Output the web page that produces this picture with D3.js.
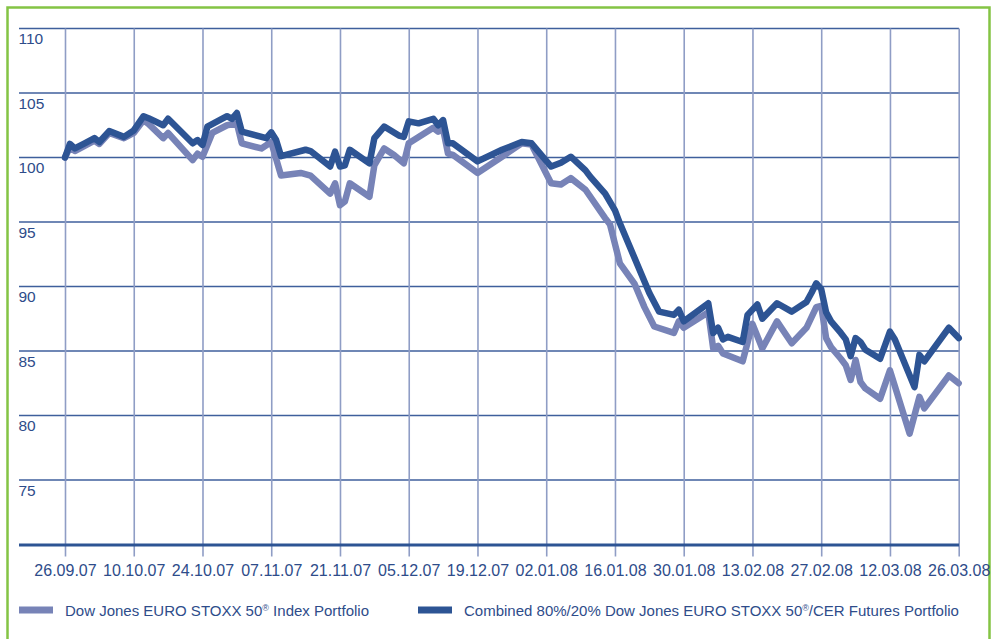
<!DOCTYPE html>
<html>
<head>
<meta charset="utf-8">
<script src="https://cdn.jsdelivr.net/npm/d3@7/dist/d3.min.js"></script>
<style>
  html, body { margin: 0; padding: 0; background: #ffffff; }
  svg { display: block; }
  text { font-family: "Liberation Sans", Arial, Helvetica, sans-serif; fill: #2e4c8a; }
</style>
</head>
<body>
<svg id="chart" width="991" height="639"></svg>
<script>
// Tick labels along the date axis (every two weeks)
const dateTicks = ["26.09.07", "10.10.07", "24.10.07", "07.11.07", "21.11.07", "05.12.07", "19.12.07",
                   "02.01.08", "16.01.08", "30.01.08", "13.02.08", "27.02.08", "12.03.08", "26.03.08"];
// Value axis labels
const valueTicks = [110, 105, 100, 95, 90, 85, 80, 75];

// Dow Jones EURO STOXX 50 Index Portfolio
const indexDates = ["26.09.07","27.09.07","28.09.07","30.09.07","02.10.07","03.10.07","05.10.07","08.10.07",
  "10.10.07","12.10.07","13.10.07","16.10.07","17.10.07","22.10.07","23.10.07","24.10.07","26.10.07",
  "29.10.07","31.10.07","01.11.07","05.11.07","07.11.07","09.11.07","13.11.07","15.11.07","19.11.07",
  "20.11.07","21.11.07","22.11.07","23.11.07","27.11.07","28.11.07","30.11.07","02.12.07","04.12.07",
  "05.12.07","10.12.07","11.12.07","12.12.07","13.12.07","14.12.07","19.12.07","24.12.07","28.12.07",
  "30.12.07","03.01.08","05.01.08","07.01.08","10.01.08","14.01.08","15.01.08","16.01.08","17.01.08",
  "20.01.08","22.01.08","24.01.08","28.01.08","29.01.08","30.01.08","04.02.08","05.02.08","06.02.08",
  "07.02.08","11.02.08","13.02.08","15.02.08","18.02.08","21.02.08","24.02.08","26.02.08","27.02.08",
  "28.02.08","29.02.08","02.03.08","03.03.08","04.03.08","05.03.08","06.03.08","07.03.08","10.03.08",
  "12.03.08","16.03.08","18.03.08","19.03.08","24.03.08","26.03.08"];
const indexValues = [100.0, 100.8, 100.5, 100.9, 101.3, 101.05, 101.9, 101.5,
  101.9, 102.9, 102.6, 101.5, 101.9, 99.8, 100.3, 100.06, 101.9,
  102.5, 102.65, 101.1, 100.7, 101.2, 98.6, 98.8, 98.6, 97.2,
  98.0, 96.3, 96.6, 98.0, 96.96, 99.4, 100.7, 100.2, 99.55,
  101.1, 102.3, 102.0, 102.2, 100.3, 100.2, 98.8, 100.06, 101.1,
  101.0, 98.0, 97.9, 98.4, 97.5, 95.3, 94.8, 93.3, 91.8,
  90.2, 88.4, 86.9, 86.4, 87.3, 86.8, 88.0, 85.2, 85.4,
  84.8, 84.2, 87.1, 85.2, 87.3, 85.6, 86.8, 88.4, 88.5,
  86.0, 85.3, 84.4, 83.9, 82.75, 84.3, 82.6, 82.1, 81.3,
  83.5, 78.6, 81.45, 80.55, 83.1, 82.5];

// Combined 80%/20% Dow Jones EURO STOXX 50 / CER Futures Portfolio
const combinedDates = ["26.09.07","27.09.07","28.09.07","30.09.07","02.10.07","03.10.07","05.10.07","08.10.07",
  "10.10.07","12.10.07","13.10.07","16.10.07","17.10.07","22.10.07","23.10.07","24.10.07","25.10.07",
  "29.10.07","30.10.07","31.10.07","01.11.07","06.11.07","07.11.07","08.11.07","09.11.07","14.11.07",
  "15.11.07","19.11.07","20.11.07","21.11.07","22.11.07","23.11.07","27.11.07","28.11.07","30.11.07",
  "03.12.07","04.12.07","05.12.07","07.12.07","10.12.07","11.12.07","12.12.07","13.12.07","14.12.07",
  "19.12.07","24.12.07","28.12.07","30.12.07","03.01.08","05.01.08","07.01.08","10.01.08","11.01.08",
  "14.01.08","16.01.08","17.01.08","19.01.08","21.01.08","23.01.08","25.01.08","28.01.08","29.01.08",
  "30.01.08","04.02.08","05.02.08","06.02.08","07.02.08","08.02.08","11.02.08","12.02.08","14.02.08",
  "15.02.08","18.02.08","21.02.08","24.02.08","25.02.08","26.02.08","27.02.08","28.02.08","29.02.08",
  "02.03.08","03.03.08","04.03.08","05.03.08","06.03.08","07.03.08","10.03.08","12.03.08","13.03.08",
  "17.03.08","18.03.08","19.03.08","24.03.08","26.03.08"];
const combinedValues = [100.0, 101.05, 100.7, 101.1, 101.5, 101.2, 102.05, 101.6,
  102.1, 103.2, 103.05, 102.5, 103.0, 101.1, 101.35, 100.97, 102.4,
  103.2, 103.0, 103.45, 102.0, 101.5, 101.95, 101.35, 100.1, 100.6,
  100.5, 99.3, 100.45, 99.3, 99.4, 100.6, 99.55, 101.5, 102.4,
  101.7, 101.6, 102.8, 102.65, 103.0, 102.5, 102.9, 101.1, 101.1,
  99.7, 100.6, 101.2, 101.1, 99.3, 99.6, 100.06, 99.0, 98.5,
  97.2, 95.9, 94.9, 93.1, 91.3, 89.5, 88.05, 87.8, 88.2,
  87.3, 88.7, 86.4, 86.8, 85.9, 86.1, 85.7, 87.8, 88.6,
  87.5, 88.7, 88.05, 88.8, 89.5, 90.25, 89.8, 88.0, 87.3,
  86.4, 85.9, 84.6, 86.0, 85.7, 85.1, 84.4, 86.5, 85.9,
  82.2, 84.7, 84.2, 86.8, 86.0];

const seriesNames = ["Dow Jones EURO STOXX 50", "Combined 80%/20% Dow Jones EURO STOXX 50"];

const parse = d3.timeParse("%d.%m.%y");
const svg = d3.select("#chart");

const colIndex = "#7783b7";
const colCombined = "#2d5494";
const colGridH = "#3f5f9c";
const colGridV = "#8f9dc5";
const colText = "#2e4c8a";

// Frame
svg.append("path")
  .attr("d", "M7.5,650 V7.5 H989.5 V650")
  .attr("fill", "none")
  .attr("stroke", "#84c444")
  .attr("stroke-width", 2.5);

const plotLeft = 19, plotRight = 959;
const x = d3.scaleTime()
  .domain([parse(dateTicks[0]), parse(dateTicks[dateTicks.length - 1])])
  .range([65, 958.7]);
const y = d3.scaleLinear().domain([70, 110]).range([544.5, 28.5]);

// Horizontal grid
svg.append("g").selectAll("line")
  .data(valueTicks)
  .join("line")
  .attr("x1", plotLeft).attr("x2", plotRight)
  .attr("y1", d => y(d)).attr("y2", d => y(d))
  .attr("stroke", colGridH)
  .attr("stroke-width", 1.5);

// Vertical grid + date axis
const tickDates = dateTicks.map(parse);
const xAxis = d3.axisBottom(x)
  .tickValues(tickDates)
  .tickFormat(d3.timeFormat("%d.%m.%y"))
  .tickSizeInner(-(y(70) - y(110)) - 12)
  .tickSizeOuter(0)
  .tickPadding(0);
const gx = svg.append("g")
  .attr("transform", `translate(0,${y(70) + 12})`)
  .call(xAxis);
gx.select(".domain").remove();
gx.selectAll(".tick line").attr("stroke", colGridV).attr("stroke-width", 1.6);
gx.selectAll(".tick text")
  .attr("y", 19.5)
  .attr("dy", null)
  .style("font-size", "16px")
  .style("fill", colText);

// Value labels, placed just under each gridline
const yAxis = d3.axisLeft(y).tickValues(valueTicks).tickSize(0).tickPadding(0);
const gy = svg.append("g").attr("transform", `translate(${plotLeft},0)`).call(yAxis);
gy.select(".domain").remove();
gy.selectAll(".tick text")
  .attr("text-anchor", "start")
  .attr("x", -0.5)
  .attr("dy", null)
  .attr("y", 15)
  .style("font-size", "15.5px")
  .style("font-family", "'Liberation Sans', Arial, sans-serif")
  .style("fill", colText);

// Baseline
svg.append("line")
  .attr("x1", plotLeft).attr("x2", plotRight)
  .attr("y1", y(70) + 0.5).attr("y2", y(70) + 0.5)
  .attr("stroke", colCombined)
  .attr("stroke-width", 3);

// Series lines
const line = d3.line()
  .x(d => x(d.date))
  .y(d => y(d.value));

const indexData = indexDates.map((d, i) => ({ date: parse(d), value: indexValues[i] }));
const combinedData = combinedDates.map((d, i) => ({ date: parse(d), value: combinedValues[i] }));

svg.append("path")
  .datum(indexData)
  .attr("d", line)
  .attr("fill", "none")
  .attr("stroke", colIndex)
  .attr("stroke-width", 6.5)
  .attr("stroke-linejoin", "round")
  .attr("stroke-linecap", "round");

svg.append("path")
  .datum(combinedData)
  .attr("d", line)
  .attr("fill", "none")
  .attr("stroke", colCombined)
  .attr("stroke-width", 6.5)
  .attr("stroke-linejoin", "round")
  .attr("stroke-linecap", "round");

// Legend
const legendItems = [
  { x: 19, color: colIndex, pre: seriesNames[0], post: " Index Portfolio" },
  { x: 418, color: colCombined, pre: seriesNames[1], post: "/CER Futures Portfolio" }
];
const lg = svg.append("g");
legendItems.forEach(item => {
  lg.append("rect")
    .attr("x", item.x).attr("y", 606.5)
    .attr("width", 34).attr("height", 7)
    .attr("fill", item.color);
  const t = lg.append("text")
    .attr("x", item.x + 46)
    .attr("y", 615.5)
    .style("font-size", "15px")
    .style("fill", colText);
  t.append("tspan").text(item.pre);
  t.append("tspan").text("®").attr("dy", -5).style("font-size", "9px");
  t.append("tspan").text(item.post).attr("dy", 5);
});
</script>
</body>
</html>
